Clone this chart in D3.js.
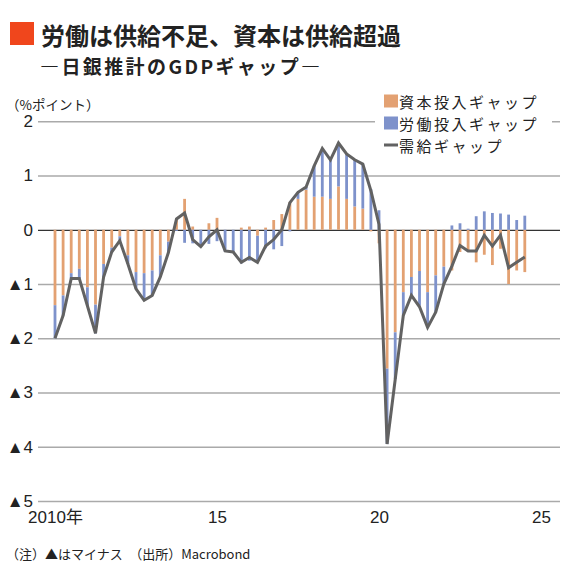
<!DOCTYPE html>
<html>
<head>
<meta charset="utf-8">
<script src="https://cdn.jsdelivr.net/npm/d3@7"></script>
<style>
  body { margin: 0; background: #fff; }
  text { font-family: "Noto Sans CJK JP", "Noto Sans", sans-serif; fill: #222; }
  .num { font-family: "Liberation Sans", "Noto Sans CJK JP", sans-serif; }
</style>
</head>
<body>
<div id="chart"></div>
<script>
// quarterly, 2010Q1 .. 2024Q3
var startYear = 2010;
var capitalGap = [-1.39, -1.21, -0.80, -0.72, -1.06, -1.38, -0.63, -0.33, -0.12, -0.47,
    -0.78, -0.80, -0.75, -0.47, -0.22, 0.20, 0.57, 0.06, 0.00, 0.12,
    0.22, 0.00, 0.00, 0.04, 0.06, -0.11, 0.04, 0.18, 0.29, 0.51,
    0.57, 0.74, 0.61, 0.61, 0.57, 0.80, 0.57, 0.43, 0.39, -0.03,
    -0.25, -2.56, -1.89, -1.15, -0.87, -0.76, -1.15, -0.84, -0.68, -0.75,
    -0.41, -0.39, -0.60, -0.46, -0.65, -0.35, -1.00, -0.75, -0.78];
var laborGap = [-0.61, -0.37, -0.10, -0.18, -0.35, -0.53, -0.24, -0.08, -0.08, -0.16,
    -0.31, -0.50, -0.46, -0.40, -0.20, -0.02, -0.24, -0.25, -0.31, -0.26,
    -0.21, -0.40, -0.41, -0.62, -0.57, -0.49, -0.34, -0.36, -0.30, -0.03,
    0.12, 0.05, 0.57, 0.88, 0.72, 0.80, 0.82, 0.86, 0.82, 0.75,
    0.36, -1.39, -0.86, -0.43, -0.34, -0.64, -0.65, -0.68, -0.32, 0.08,
    0.12, 0.02, 0.25, 0.34, 0.31, 0.30, 0.28, 0.18, 0.26];
var outputGap = [-2.00, -1.58, -0.90, -0.90, -1.40, -1.91, -0.87, -0.41, -0.20, -0.63,
    -1.09, -1.30, -1.21, -0.87, -0.42, 0.20, 0.31, -0.18, -0.31, -0.13,
    0.00, -0.39, -0.41, -0.60, -0.51, -0.60, -0.30, -0.18, 0.00, 0.50,
    0.69, 0.79, 1.18, 1.50, 1.29, 1.60, 1.40, 1.29, 1.21, 0.72,
    0.10, -3.95, -2.76, -1.58, -1.21, -1.42, -1.80, -1.52, -1.00, -0.67,
    -0.29, -0.39, -0.39, -0.10, -0.30, -0.10, -0.70, -0.60, -0.50];

var yTicks = [2, 1, 0, -1, -2, -3, -4, -5];
var xTicks = [2010, 2015, 2020, 2025];
var xTickLabels = ["2010年", "15", "20", "25"];
var seriesNames = ["資本投入ギャップ", "労働投入ギャップ", "需給ギャップ"];
var colors = ["#e3a172", "#7e92cb", "#626262"];

var svgWidth = 570;
var svgHeight = 575;

var svg = d3.select("#chart").append("svg")
    .attr("width", svgWidth).attr("height", svgHeight);

// title block
svg.append("rect").attr("x", 10).attr("y", 22).attr("width", 24).attr("height", 23)
    .attr("fill", "#f0461c");
svg.append("text").attr("x", 41).attr("y", 34).attr("dominant-baseline", "central")
    .attr("font-size", 24).attr("font-weight", "bold").text("労働は供給不足、資本は供給超過");
svg.append("text").attr("x", 40).attr("y", 65).attr("dominant-baseline", "central")
    .attr("font-size", 19).attr("font-weight", "bold").attr("fill", "#333")
    .attr("letter-spacing", 2.4)
    .text("―日銀推計のGDPギャップ―");
svg.append("text").attr("x", 6).attr("y", 104).attr("dominant-baseline", "central")
    .attr("font-size", 13.5).text("（%ポイント）");

var data = capitalGap.map((c, i) => ({
    t: startYear + i / 4,
    capital: c,
    labor: laborGap[i],
    gap: outputGap[i]
}));

var xScale = d3.scaleLinear().domain([2010, 2025]).range([55, 541]);
var yScale = d3.scaleLinear().domain([-5, 2]).range([501, 121.3]);

var gridLeft = 38, gridRight = 560;

var yAxis = svg.append("g")
    .attr("transform", `translate(${gridLeft}, 0)`)
    .call(d3.axisLeft(yScale).tickValues(yTicks).tickSize(-(gridRight - gridLeft)).tickPadding(5)
        .tickFormat(d => d < 0 ? "▲" + (-d) : d));
yAxis.select(".domain").remove();
yAxis.selectAll(".tick line").attr("stroke", d => d === 0 ? "#333" : "#aaa")
    .attr("stroke-width", d => d === 0 ? 1.3 : 1.5);
yAxis.selectAll(".tick text").attr("class", "num").attr("font-size", 17).attr("fill", "#222");

var xAxis = svg.append("g")
    .attr("transform", "translate(0, 511)")
    .call(d3.axisBottom(xScale).tickValues(xTicks).tickSize(0).tickPadding(0)
        .tickFormat((d, i) => xTickLabels[i]));
xAxis.select(".domain").remove();
xAxis.selectAll(".tick text").attr("class", "num").attr("font-size", 17).attr("fill", "#222");

var stack = d3.stack().keys(["capital", "labor"]).offset(d3.stackOffsetDiverging);
var stacked = stack(data);

var barWidth = 2.8;
svg.append("g").selectAll("g")
    .data(stacked).enter().append("g")
    .attr("fill", (d, i) => colors[i])
    .selectAll("rect")
    .data(d => d).enter().append("rect")
    .attr("x", d => xScale(d.data.t) - barWidth / 2)
    .attr("y", d => yScale(Math.max(d[0], d[1])))
    .attr("height", d => Math.abs(yScale(d[0]) - yScale(d[1])))
    .attr("width", barWidth);

var line = d3.line().x(d => xScale(d.t)).y(d => yScale(d.gap));
svg.append("path").datum(data)
    .attr("d", line).attr("fill", "none")
    .attr("stroke", colors[2]).attr("stroke-width", 3).attr("stroke-linejoin", "miter");

// legend
var legend = svg.append("g").attr("transform", "translate(375, 90)");
legend.append("rect").attr("x", 0).attr("y", 0).attr("width", 177).attr("height", 66).attr("fill", "#fff");
seriesNames.forEach((name, i) => {
    var cy = 11 + i * 22;
    if (i < 2) {
        legend.append("rect").attr("x", 9).attr("y", cy - 6.5).attr("width", 14).attr("height", 13)
            .attr("fill", colors[i]);
    } else {
        legend.append("rect").attr("x", 9).attr("y", cy - 1.5).attr("width", 14).attr("height", 3)
            .attr("fill", colors[i]);
    }
    legend.append("text").attr("x", 24).attr("y", cy).attr("dominant-baseline", "central")
        .attr("font-size", 15).attr("letter-spacing", 2.5).text(name);
});

svg.append("text").attr("x", 6).attr("y", 553).attr("dominant-baseline", "central")
    .attr("font-size", 13).text("（注）▲はマイナス　（出所）Macrobond");
</script>
</body>
</html>
